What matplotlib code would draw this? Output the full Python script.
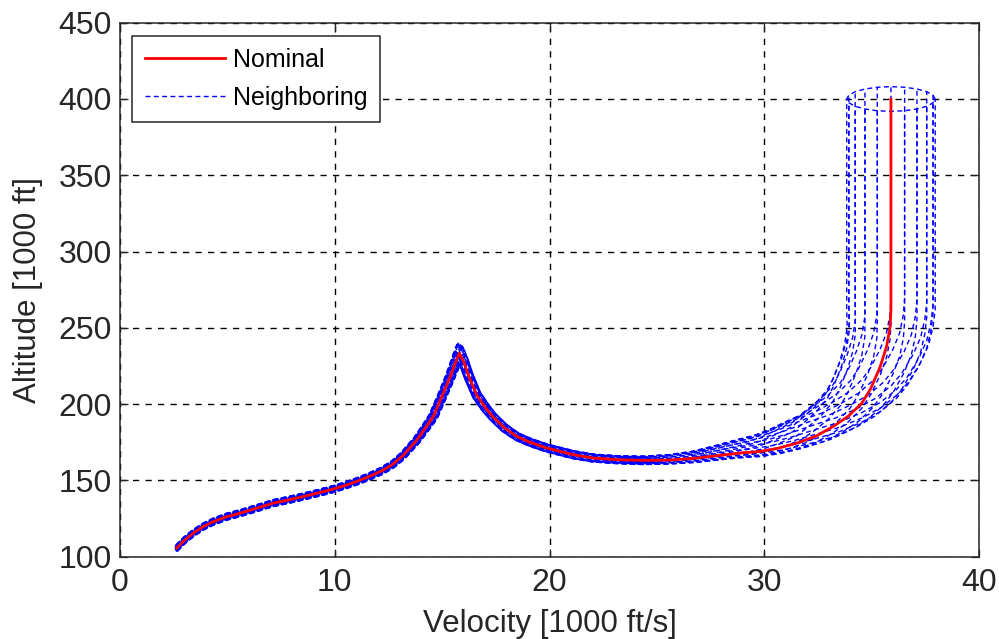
import numpy as np
import matplotlib
matplotlib.use("Agg")
import matplotlib.pyplot as plt

# Nominal trajectory (velocity in 1000 ft/s, altitude in 1000 ft)
nom_v = [2.64, 3.0, 3.41, 3.85, 4.34, 4.95, 5.59, 6.35, 7.14, 7.85,
         8.54, 9.25, 9.93, 10.5, 11.02, 11.6, 12.2, 12.7, 13.19, 13.82,
         14.25, 14.59, 15.05, 15.35, 15.6, 15.80, 16.0, 16.25, 16.61, 17.0,
         17.38, 17.9, 18.47, 19.1, 19.87, 21.11, 22.04, 23.2, 24.37, 25.6,
         26.8, 27.94, 28.9, 29.8, 30.6, 31.5, 32.4, 33.2, 33.9, 34.54,
         34.95, 35.4, 35.7, 35.86, 35.9, 35.9, 35.9, 35.9]
nom_h = [105.7, 110.8, 115.5, 119.6, 123.0, 126.2, 128.6, 131.8, 135.2, 137.3,
         139.5, 141.9, 144.4, 146.8, 149.4, 152.6, 156.4, 160.6, 166.5, 176.5,
         185.0, 192.0, 207.0, 217.0, 226.5, 233.5, 228.0, 218.0, 206.0, 198.0,
         191.5, 184.5, 178.9, 175.0, 171.3, 166.9, 164.7, 163.6, 163.2, 163.4,
         164.6, 166.5, 168.0, 169.0, 171.0, 174.4, 179.0, 185.3, 192.0, 200.6,
         210.0, 224.6, 238.0, 250.8, 262.0, 300.0, 350.0, 400.0]

# Dispersion of the neighboring trajectories along the nominal
# (fraction of the terminal offset in velocity / altitude, plus common altitude drift)
spread_v = [0.04, 0.04, 0.04, 0.04, 0.04, 0.04, 0.04, 0.04, 0.04, 0.04,
            0.04, 0.04, 0.04, 0.04, 0.05, 0.05, 0.05, 0.06, 0.07, 0.08,
            0.09, 0.10, 0.10, 0.10, 0.10, 0.10, 0.10, 0.10, 0.10, 0.10,
            0.09, 0.09, 0.09, 0.09, 0.10, 0.12, 0.14, 0.16, 0.18, 0.20,
            0.22, 0.25, 0.28, 0.30, 0.36, 0.45, 0.55, 0.68, 0.76, 0.82,
            0.87, 0.92, 0.95, 0.97, 1.0, 1.0, 1.0, 1.0]
spread_h = [0.28, 0.28, 0.28, 0.28, 0.28, 0.28, 0.28, 0.28, 0.28, 0.28,
            0.28, 0.28, 0.28, 0.28, 0.29, 0.29, 0.30, 0.31, 0.32, 0.34,
            0.36, 0.38, 0.42, 0.50, 0.65, 0.85, 0.65, 0.50, 0.42, 0.38,
            0.36, 0.34, 0.32, 0.32, 0.32, 0.32, 0.32, 0.32, 0.34, 0.38,
            0.46, 0.60, 0.75, 0.90, 1.05, 1.20, 1.25, 1.25, 1.20, 1.15,
            1.10, 1.05, 1.0, 1.0, 1.0, 1.0, 1.0, 1.0]
drift_h = [0, 0, 0, 0, 0, 0, 0, 0, 0, 0,
           0, 0, 0, 0, 0, 0, 0, 0, 0, 0,
           0, 0, 0, 0, 0, 0, 0, 0, 0, 0,
           0, 0, 0, 0, 0, 0, 0, 0, 0, 0.5,
           1, 2, 3, 4, 5, 6, 6, 6, 6, 6,
           5, 3, 1, 0, 0, 0, 0, 0]

# Terminal dispersion ellipse of the neighboring trajectories
end_angles_deg = [0, 18, 36, 54, 72, 90, 108, 126, 144, 162,
                  180, 198, 216, 234, 252, 270, 288, 306, 324, 342]
end_radius_v = 2.06
end_radius_h = 8.1

x_ticks = [0, 10, 20, 30, 40]
y_ticks = [100, 150, 200, 250, 300, 350, 400, 450]

plt.rcParams['font.family'] = ['Liberation Sans', 'DejaVu Sans']

fig = plt.figure(figsize=(9.99, 6.39), dpi=100)
ax = fig.add_axes([120 / 999, 1 - 556.8 / 639, 859 / 999, (556.8 - 22.7) / 639])

nv = np.array(nom_v)
nh = np.array(nom_h)
sv = np.array(spread_v)
sh = np.array(spread_h)
bh = np.array(drift_h)
ang = np.deg2rad(np.array(end_angles_deg))
dv = end_radius_v * np.cos(ang)
dh = end_radius_h * np.sin(ang)

blue = '#0000ff'
dash = (0, (3.5, 2.5))
for i in range(len(ang)):
    ax.plot(nv + sv * dv[i], nh + bh + sh * dh[i], color=blue, lw=1.0, linestyle=dash,
            label='Neighboring' if i == 0 else None, zorder=3)
# terminal ellipse outline
ev = np.append(nv[-1] + dv, nv[-1] + dv[0])
eh = np.append(nh[-1] + dh, nh[-1] + dh[0])
ax.plot(ev, eh, color=blue, lw=1.0, linestyle=dash, zorder=3)

ax.plot(nv, nh, color='#ff0000', lw=2.0, label='Nominal', zorder=4)

ax.set_xlim(0, 40)
ax.set_ylim(100, 450)
ax.set_xticks(x_ticks)
ax.set_yticks(y_ticks)
ax.tick_params(direction='in', top=True, right=True, length=6, width=0.9,
               labelsize=23, pad=6, colors='#262626')
ax.tick_params(axis='x', pad=8)
for s in ax.spines.values():
    s.set_linewidth(1.1)
    s.set_color('#262626')
ax.grid(True, color='black', linestyle=(0, (4.5, 4.5)), linewidth=1.0)
ax.set_axisbelow(True)

ax.set_xlabel('Velocity [1000 ft/s]', fontsize=22.5, labelpad=8, color='#262626')
ax.set_ylabel('Altitude [1000 ft]', fontsize=22.5, labelpad=11, color='#262626')

h_, l_ = ax.get_legend_handles_labels()
order = [l_.index('Nominal'), l_.index('Neighboring')]
leg = ax.legend([h_[k] for k in order], [l_[k] for k in order],
                loc='upper left', bbox_to_anchor=(0.014, 0.976), fontsize=18,
                frameon=True, fancybox=False, edgecolor='#262626', framealpha=1,
                handlelength=3.2, handletextpad=0.35, borderpad=0.5, labelspacing=0.55,
                borderaxespad=0.0)
leg.get_frame().set_linewidth(1.1)

fig.savefig('out.png', dpi=100)
